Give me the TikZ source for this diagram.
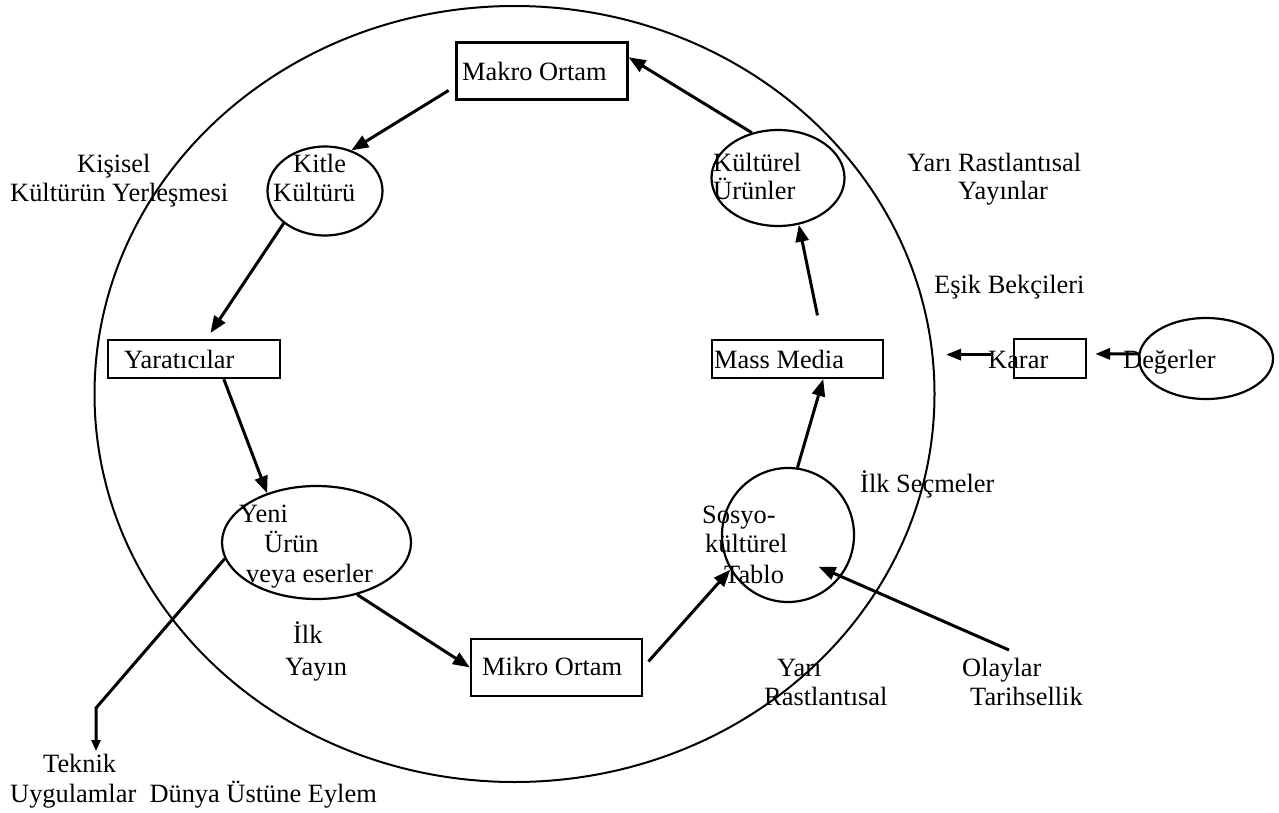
\documentclass[tikz,border=0pt]{standalone}
\usepackage{fontspec}
\setmainfont{Liberation Serif}
\usetikzlibrary{shapes.geometric,arrows.meta,calc}

\begin{document}
\begin{tikzpicture}[x=1pt,y=-1pt,
    >={Triangle[length=17pt,width=13pt]},
    txt/.style={anchor=base west,inner sep=0pt,font=\fontsize{26.4}{30}\selectfont}]
  \useasboundingbox (0,0) rectangle (1279,813);

  % the outer cycle
  \node (big) [draw, ellipse, line width=2pt, minimum width=840pt, minimum height=776pt, inner sep=0pt] at (514.5,394) {};

  \begin{scope}[every node/.style={draw,line width=2.2pt,inner sep=0pt}]
    \node (makro) [minimum width=171pt, minimum height=57pt] at (542,71) {};
    \node (yarat) [minimum width=172pt, minimum height=38pt] at (194,359) {};
    \node (mass) [minimum width=171pt, minimum height=38pt] at (797.5,359) {};
    \node (karar) [minimum width=72pt, minimum height=39pt] at (1050,358.5) {};
    \node (mikro) [minimum width=171pt, minimum height=57pt] at (556.5,667.5) {};
    \node (kitle) [ellipse, minimum width=115pt, minimum height=89pt] at (325,191) {};
    \node (kulturel) [ellipse, minimum width=133pt, minimum height=96pt] at (778,178) {};
    \node (deger) [ellipse, minimum width=134pt, minimum height=81pt] at (1206,358.5) {};
    \node (yeni) [ellipse, minimum width=189pt, minimum height=113pt] at (316.5,542.5) {};
    \node (sosyo) [ellipse, minimum width=132pt, minimum height=134pt] at (788,535) {};
  \end{scope}

  \begin{scope}[every node/.style=txt]
    \node (makroT) at (462,81) {Makro Ortam};
    \node (yaratT) at (124,368) {Yaratıcılar};
    \node (massT) at (714,368) {Mass Media};
    \node (mikroT) at (482,675) {Mikro Ortam};
    \node (kararT) at (988,368) {Karar};
    \node (degerT) at (1123,368) {Değerler};
    \node (kisA) at (77,173) {Kişisel};
    \node (kisB) at (10,202) {Kültürün Yerleşmesi};
    \node (kitA) at (293,173) {Kitle};
    \node (kitB) at (273,202) {Kültürü};
    \node (kulA) at (713,172) {Kültürel};
    \node (kulB) at (713,200) {Ürünler};
    \node (yayA) at (907,172) {Yarı Rastlantısal};
    \node (yayB) at (958,200) {Yayınlar};
    \node (esik) at (934,293) {Eşik Bekçileri};
    \node (secme) at (860,492) {İlk Seçmeler};
    \node (sosA) at (702,523) {Sosyo-};
    \node (sosB) at (705,552) {kültürel};
    \node (sosC) at (724,583) {Tablo};
    \node (yenA) at (239,522) {Yeni};
    \node (yenB) at (264,552) {Ürün};
    \node (yenC) at (246,582) {veya eserler};
    \node (ilkA) at (293,643) {İlk};
    \node (ilkB) at (285,675) {Yayın};
    \node (rasA) at (777,676) {Yarı};
    \node (rasB) at (764,705) {Rastlantısal};
    \node (olayA) at (962,676) {Olaylar};
    \node (olayB) at (970,705) {Tarihsellik};
    \node (tekA) at (43,772) {Teknik};
    \node (tekB) at (10,802) {Uygulamlar~~Dünya Üstüne Eylem};
  \end{scope}

  \coordinate (olay) at (1009,650);
  \coordinate (knee) at (96,708);
  \coordinate (tekTip) at (96,751);

  \begin{scope}[every edge/.style={draw,line width=3pt}]
    \path [->] (makro.190) edge[shorten <=8pt] (kitle.57);
    \path [->] (kitle.218) edge[shorten >=7pt] (yarat.58);
    \path [->] (yarat.-34) edge (yeni.135);
    \path [->] (yeni.-52) edge (mikro.west);
    \path [->] (mikro.east) edge[shorten <=8pt] (sosyo.211);
    \path [->] (sosyo.82) edge (mass.-38);
    \path [->] (mass.39) edge[shorten <=24pt] (kulturel.-66);
    \path [->] (kulturel.120) edge (makro.9);
    \path [->] (olay) edge ($(sosyo.center)!0.65!(sosyo.-46)$);
    \path [-{Triangle[length=15pt,width=11pt]}] (karar.174) edge[shorten <=22pt, shorten >=10.5pt] (karar.174 -| big.east);
    \path [-{Triangle[length=15pt,width=11pt]}] (deger.176) edge[shorten >=8pt] (karar.7);
  \end{scope}
  \draw [line width=3pt, -{Triangle[length=11pt,width=9pt]}] (yeni.190) -- (knee) -- (tekTip);
\end{tikzpicture}
\end{document}
